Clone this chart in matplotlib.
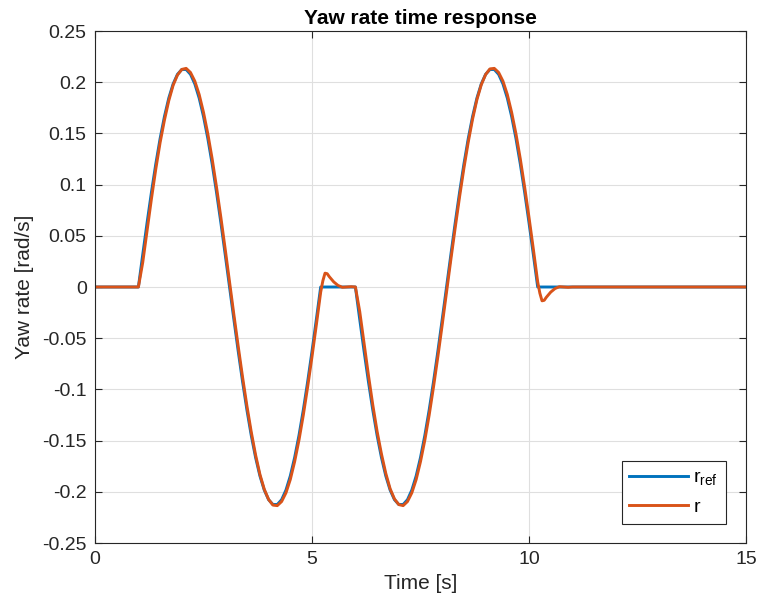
import matplotlib
matplotlib.use('Agg')
import matplotlib.pyplot as plt

plt.rcParams['font.family'] = ['Liberation Sans', 'DejaVu Sans']
plt.rcParams['mathtext.fontset'] = 'custom'
plt.rcParams['mathtext.rm'] = 'Liberation Sans'
plt.rcParams['axes.unicode_minus'] = False

# ---------------------------------------------------------
# Data
# ---------------------------------------------------------
# one sine-like hump pair, sampled every 0.1 s (positive half first)
hump_ref = [0.0, 0.0317, 0.0628, 0.0924, 0.1200, 0.1449, 0.1665, 0.1845, 0.1983, 0.2077, 0.2124,
            0.2124, 0.2077, 0.1983, 0.1845, 0.1665, 0.1449, 0.1200, 0.0924, 0.0628, 0.0317,
            0.0, -0.0317, -0.0628, -0.0924, -0.1200, -0.1449, -0.1665, -0.1845, -0.1983, -0.2077,
            -0.2124, -0.2124, -0.2077, -0.1983, -0.1845, -0.1665, -0.1449, -0.1200, -0.0924,
            -0.0628, -0.0317, 0.0]
hump_r = [0.0, 0.0240, 0.0550, 0.0860, 0.1150, 0.1410, 0.1630, 0.1820, 0.1970, 0.2070, 0.2125,
          0.2135, 0.2095, 0.2010, 0.1880, 0.1705, 0.1495, 0.1250, 0.0975, 0.0680, 0.0370,
          0.0050, -0.0270, -0.0580, -0.0880, -0.1160, -0.1415, -0.1640, -0.1830, -0.1975, -0.2075,
          -0.2130, -0.2135, -0.2095, -0.2010, -0.1880, -0.1705, -0.1495, -0.1250, -0.0975,
          -0.0680, -0.0370, -0.0050]
hump_t = [round(0.1 * k, 2) for k in range(len(hump_ref))]

start1 = 1.0   # first manoeuvre
start2 = 6.0   # second manoeuvre (sign reversed)

# settling tails after each manoeuvre (time after end, value of r)
tail_t = [0.05, 0.10, 0.15, 0.20, 0.30, 0.40, 0.50, 0.60, 0.70, 0.80]
tail_r = [0.0060, 0.0135, 0.0130, 0.0100, 0.0050, 0.0015, -0.0003, 0.0, 0.0003, 0.0]

t_end = 15.0

# assemble the series
t_ref = [0.0] + [start1 + t for t in hump_t] + [start2 + t for t in hump_t] + [t_end]
r_ref = [0.0] + hump_ref + [-v for v in hump_ref] + [0.0]

end1 = start1 + hump_t[-1]
end2 = start2 + hump_t[-1]
t_r = ([0.0] + [start1 + t for t in hump_t] + [end1 + t for t in tail_t]
       + [start2 + t for t in hump_t] + [end2 + t for t in tail_t] + [t_end])
r_r = ([0.0] + hump_r + tail_r
       + [-v for v in hump_r] + [-v for v in tail_r] + [0.0])

x_ticks = [0, 5, 10, 15]
y_ticks = [-0.25, -0.2, -0.15, -0.1, -0.05, 0, 0.05, 0.1, 0.15, 0.2, 0.25]
y_labels = ['-0.25', '-0.2', '-0.15', '-0.1', '-0.05', '0', '0.05', '0.1', '0.15', '0.2', '0.25']

# ---------------------------------------------------------
# Plot
# ---------------------------------------------------------
dark = '#262626'
fig = plt.figure(figsize=(7.59, 6.12), dpi=100)
ax = fig.add_axes([95 / 759, 69 / 612, 651 / 759, 512 / 612])

ax.plot(t_ref, r_ref, color='#0072BD', lw=2.1, solid_joinstyle='round',
        label=r'r$_{\mathrm{ref}}$')
ax.plot(t_r, r_r, color='#D95319', lw=2.1, solid_joinstyle='round', label='r')

ax.set_xlim(0, 15)
ax.set_ylim(-0.25, 0.25)
ax.set_xticks(x_ticks)
ax.set_xticklabels([str(v) for v in x_ticks])
ax.set_yticks(y_ticks)
ax.set_yticklabels(y_labels)

ax.grid(True, color='#dfdfdf', lw=0.8)
ax.set_axisbelow(True)
ax.tick_params(direction='in', length=5, width=0.8, colors=dark, labelsize=14,
               top=True, right=True, pad=6)
for s in ax.spines.values():
    s.set_color(dark)
    s.set_linewidth(0.8)

ax.set_xlabel('Time [s]', fontsize=15, color=dark, labelpad=4)
ax.set_ylabel('Yaw rate [rad/s]', fontsize=15, color=dark, labelpad=6)
ax.set_title('Yaw rate time response', fontsize=15, fontweight='bold', color='black', pad=5)

leg = ax.legend(loc='lower right', bbox_to_anchor=((726 - 95) / 651, 19 / 512),
                borderaxespad=0, fontsize=14, fancybox=False, framealpha=1,
                edgecolor=dark, handlelength=3.0, handletextpad=0.3,
                borderpad=0.4, labelspacing=0.55)
leg.get_frame().set_linewidth(0.8)

fig.savefig('out.png', dpi=100, facecolor='white')
